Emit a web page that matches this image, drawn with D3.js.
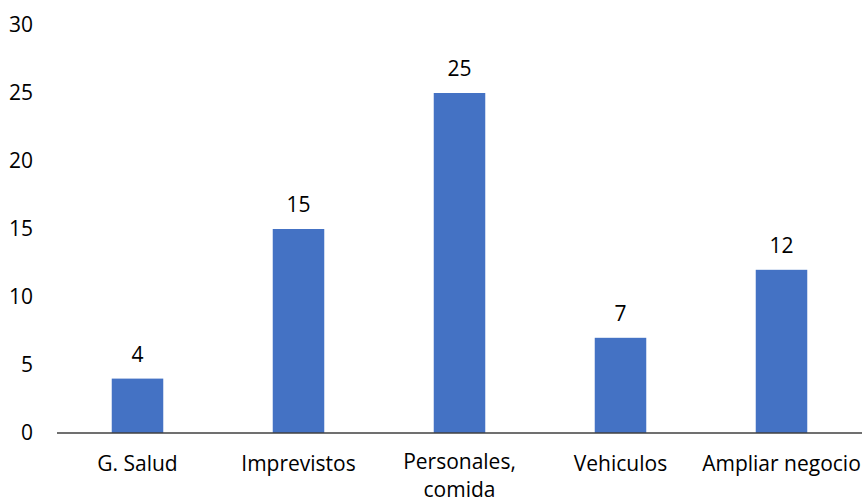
<!DOCTYPE html>
<html><head><meta charset="utf-8">
<script src="https://cdn.jsdelivr.net/npm/d3@7"></script>
<style>body{margin:0;background:#fff}svg{display:block}text{font-family:"Open Sans",Lato,sans-serif;fill:#000}</style>
</head><body>
<svg id="c" width="863" height="502"></svg>
<script>
const categories = ["G. Salud","Imprevistos","Personales, comida","Vehiculos","Ampliar negocio"];
const values = [4,15,25,7,12];
const yTicks = [0,5,10,15,20,25,30];

(function(){
const svg = d3.select("#c");
const mLeft = 57, mRight = 862, mTop = 25, mBottom = 433;
const x = d3.scaleBand().domain(categories).range([mLeft,mRight]).paddingInner(0.68).paddingOuter(0.34);
const y = d3.scaleLinear().domain([0,30]).range([mBottom,mTop]);
const fs = 21;
const ff = "'Open Sans',Lato,sans-serif";

svg.append("g").selectAll("rect").data(values).join("rect")
  .attr("x",(d,i)=>x(categories[i])).attr("width",x.bandwidth())
  .attr("y",d=>y(d)).attr("height",d=>y(0)-y(d)).attr("fill","#4472C4");

const ya = svg.append("g").attr("transform",`translate(${mLeft},0)`)
  .call(d3.axisLeft(y).tickValues(yTicks).tickSize(0).tickPadding(24));
ya.select(".domain").remove();
ya.selectAll("text").style("font-size",fs+"px").style("font-family",ff).attr("fill","#000");

svg.append("line").attr("x1",mLeft).attr("x2",mRight).attr("y1",y(0)).attr("y2",y(0))
  .attr("stroke","#404040").attr("stroke-width",1.5);

const xg = svg.append("g");
categories.forEach(d => {
  const cx = x(d)+x.bandwidth()/2;
  if (d === "Personales, comida") {
    xg.append("text").attr("text-anchor","middle").style("font-size",fs+"px").attr("x",cx).attr("y",469).text("Personales,");
    xg.append("text").attr("text-anchor","middle").style("font-size",fs+"px").attr("x",cx).attr("y",497).text("comida");
  } else {
    xg.append("text").attr("text-anchor","middle").style("font-size",fs+"px").attr("x",cx).attr("y",471).text(d);
  }
});

svg.append("g").selectAll("text").data(values).join("text")
  .attr("text-anchor","middle").style("font-size",fs+"px")
  .attr("x",(d,i)=>x(categories[i])+x.bandwidth()/2).attr("y",d=>y(d)-17).text(d=>d);
})();
</script>
</body></html>
